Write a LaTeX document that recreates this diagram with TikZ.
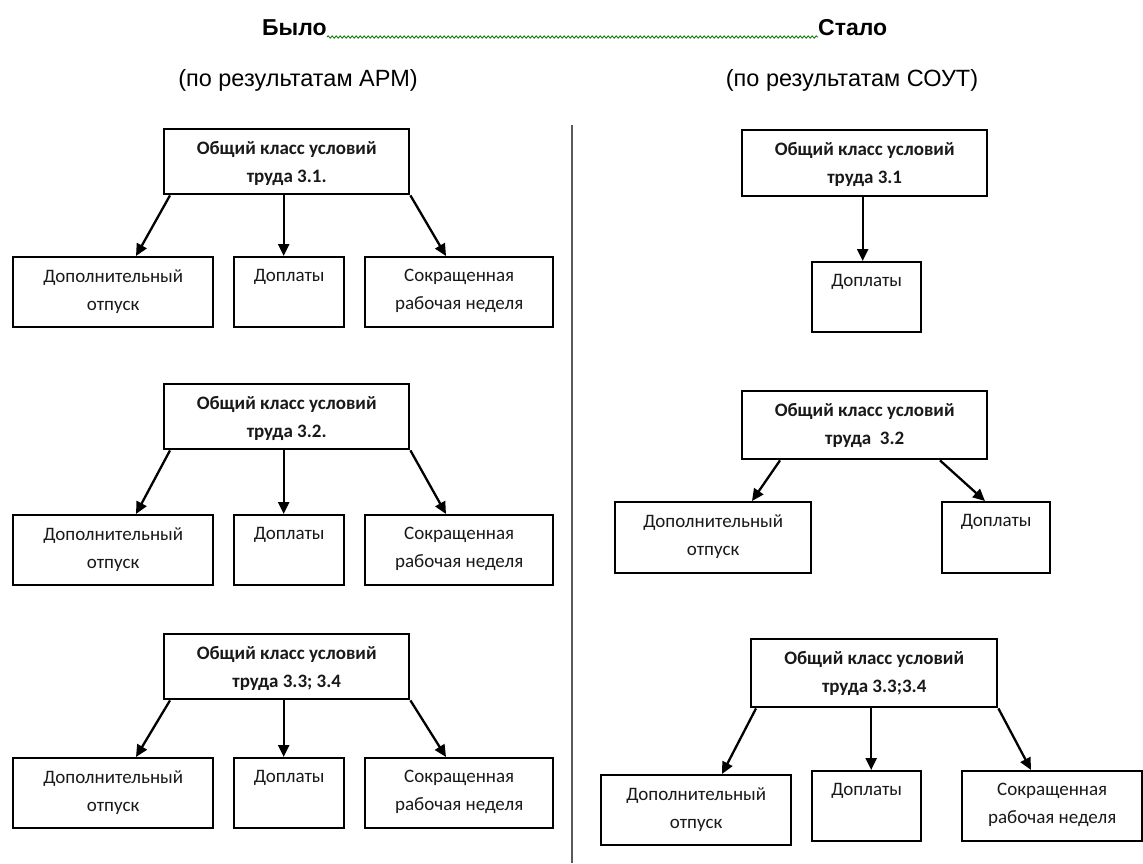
\documentclass[tikz,border=0pt]{standalone}
\usepackage{fontspec}
\setmainfont{Carlito}
\newfontfamily\arialf{Liberation Sans}
\usetikzlibrary{arrows.meta,decorations.pathmorphing}
\begin{document}
\begin{tikzpicture}[x=1pt,y=-1pt,
  box/.style={draw=black, line width=2.4pt, anchor=north west, inner sep=0pt},
  lbl/.style={anchor=north, yshift=-13pt, inner sep=0pt, align=center, font=\fontsize{19}{28}\selectfont, text=black!90},
  blbl/.style={lbl, font=\bfseries\fontsize{19}{28}\selectfont},
  arr/.style={line width=2.3pt, -{Triangle[length=12pt,width=11pt]}},
  titletext/.style={font=\arialf\bfseries\fontsize{23}{26}\selectfont, inner sep=0pt},
  subtext/.style={font=\arialf\fontsize{23.5}{26}\selectfont, inner sep=0pt},
  wave/.style={draw=green!45!black, line width=0.8pt, decorate, decoration={snake, segment length=4pt, amplitude=1.2pt}},
  divider/.style={draw=black!65, line width=2.2pt}
]
\useasboundingbox[fill=white] (0,0) rectangle (1143,863);

% titles
\node[titletext, anchor=west] (bylo) at (262,28) {Было};
\node[titletext, anchor=west] (stalo) at (818,28) {Стало};
\draw[wave] ([yshift=-9pt]bylo.east) -- ([yshift=-9pt]stalo.west);
\node[subtext] (subL) at (298,80) {(по результатам АРМ)};
\node[subtext] (subR) at (852,80) {(по результатам СОУТ)};

% divider
\coordinate (dtop) at (572,125);
\coordinate (dbot) at (572,863);
\draw[divider] (dtop) -- (dbot);

% ---------- left column ----------
% group 1
\node[box, minimum width=245, minimum height=65, label={[blbl]north:{Общий класс условий\\труда 3.1.}}] (L1p) at (163,128) {};
\node[box, minimum width=200, minimum height=70, label={[lbl]north:{Дополнительный\\отпуск}}] (L1a) at (12,256) {};
\node[box, minimum width=110, minimum height=70, label={[lbl]north:{Доплаты}}] (L1b) at (233,256) {};
\node[box, minimum width=188, minimum height=70, label={[lbl]north:{Сокращенная\\рабочая неделя}}] (L1c) at (364,256) {};
\draw[arr] ([xshift=7pt]L1p.south west) -- ([xshift=124pt]L1a.north west);
\draw[arr] ([xshift=-3pt]L1p.south) -- ([xshift=-3pt]L1p.south |- L1b.north);
\draw[arr] (L1p.south east) -- ([xshift=82pt]L1c.north west);

% group 2
\node[box, minimum width=245, minimum height=65, label={[blbl]north:{Общий класс условий\\труда 3.2.}}] (L2p) at (163,383) {};
\node[box, minimum width=200, minimum height=70, label={[lbl]north:{Дополнительный\\отпуск}}] (L2a) at (12,514) {};
\node[box, minimum width=110, minimum height=70, label={[lbl]north:{Доплаты}}] (L2b) at (233,514) {};
\node[box, minimum width=188, minimum height=70, label={[lbl]north:{Сокращенная\\рабочая неделя}}] (L2c) at (364,514) {};
\draw[arr] ([xshift=7pt]L2p.south west) -- ([xshift=124pt]L2a.north west);
\draw[arr] ([xshift=-3pt]L2p.south) -- ([xshift=-3pt]L2p.south |- L2b.north);
\draw[arr] (L2p.south east) -- ([xshift=82pt]L2c.north west);

% group 3
\node[box, minimum width=245, minimum height=65, label={[blbl]north:{Общий класс условий\\труда 3.3; 3.4}}] (L3p) at (163,633) {};
\node[box, minimum width=200, minimum height=70, label={[lbl]north:{Дополнительный\\отпуск}}] (L3a) at (12,757) {};
\node[box, minimum width=110, minimum height=70, label={[lbl]north:{Доплаты}}] (L3b) at (233,757) {};
\node[box, minimum width=188, minimum height=70, label={[lbl]north:{Сокращенная\\рабочая неделя}}] (L3c) at (364,757) {};
\draw[arr] ([xshift=7pt]L3p.south west) -- ([xshift=124pt]L3a.north west);
\draw[arr] ([xshift=-3pt]L3p.south) -- ([xshift=-3pt]L3p.south |- L3b.north);
\draw[arr] (L3p.south east) -- ([xshift=82pt]L3c.north west);

% ---------- right column ----------
% group 1
\node[box, minimum width=245, minimum height=66, label={[blbl]north:{Общий класс условий\\труда 3.1}}] (R1p) at (741,129) {};
\node[box, minimum width=109, minimum height=70, label={[lbl]north:{Доплаты}}] (R1a) at (811,261) {};
\draw[arr] ([xshift=-2pt]R1p.south) -- ([xshift=-2pt]R1p.south |- R1a.north);

% group 2
\node[box, minimum width=245, minimum height=68, label={[blbl]north:{Общий класс условий\\труда\ \ 3.2}}] (R2p) at (741,390) {};
\node[box, minimum width=196, minimum height=71, label={[lbl]north:{Дополнительный\\отпуск}}] (R2a) at (614,501) {};
\node[box, minimum width=108, minimum height=71, label={[lbl]north:{Доплаты}}] (R2b) at (941,501) {};
\draw[arr] ([xshift=39pt]R2p.south west) -- ([xshift=138pt]R2a.north west);
\draw[arr] ([xshift=199pt]R2p.south west) -- ([xshift=44pt]R2b.north west);

% group 3
\node[box, minimum width=246, minimum height=68, label={[blbl]north:{Общий класс условий\\труда 3.3;3.4}}] (R3p) at (750,638) {};
\node[box, minimum width=190, minimum height=70, label={[lbl]north:{Дополнительный\\отпуск}}] (R3a) at (600,774) {};
\node[box, minimum width=109, minimum height=70, label={[lbl]north:{Доплаты}}] (R3b) at (811,770) {};
\node[box, minimum width=180, minimum height=70, label={[lbl]north:{Сокращенная\\рабочая неделя}}] (R3c) at (961,770) {};
\draw[arr] ([xshift=6pt]R3p.south west) -- ([xshift=122pt]R3a.north west);
\draw[arr] ([xshift=-3pt]R3p.south) -- ([xshift=-3pt]R3p.south |- R3b.north);
\draw[arr] (R3p.south east) -- ([xshift=70pt]R3c.north west);
\end{tikzpicture}
\end{document}
